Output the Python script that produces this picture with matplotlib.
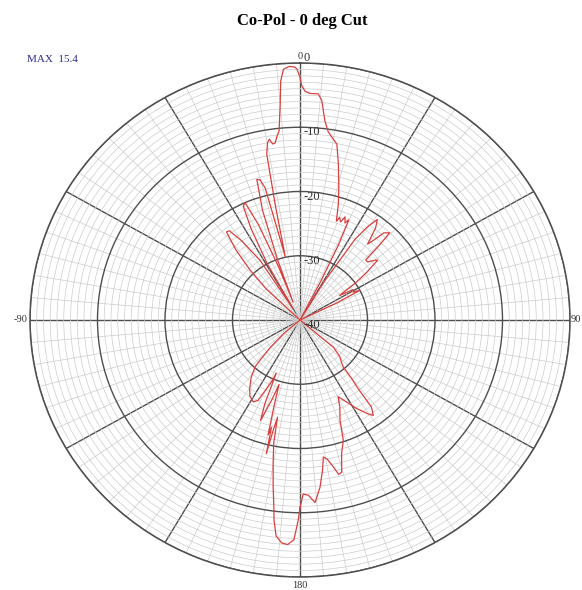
import numpy as np
import matplotlib
matplotlib.use('Agg')
import matplotlib.pyplot as plt

plt.rcParams['font.family'] = ['Liberation Serif', 'DejaVu Serif']

# measured co-pol cut, angle in deg (0 = boresight, clockwise) and relative gain in dB
angles_deg = [
    -180, -179.5, -178.5, -177, -175.5, -174, -173, -172.3, -171.3, -169.7,
    -168.5, -167.6, -167, -166.5, -165.8, -165.2, -164, -162.8, -161.5, -159.5,
    -158.2, -157, -156.3, -155, -153.5, -151.5, -148, -145, -141, -137.5,
    -136.5, -134, -131, -128, -50, -46, -43.5, -41, -38.5, -37,
    -35, -32.5, -30.5, -29, -27, -25.4, -24, -22.5, -21, -20.3,
    -19.5, -18, -16.3, -15.2, -14.1, -13.3, -12.5, -11.6, -10.8, -9.9,
    -9.2, -8.4, -7.6, -6.8, -6, -5, -4.4, -3.6, -2.3, -1.2,
    -0.7, 0, 0.4, 1.2, 2.4, 4.4, 5.4, 6.8, 8.1, 9.5,
    11.3, 13.2, 15.5, 17.5, 19.3, 20.2, 21.5, 22.6, 23.8, 24.9,
    26, 27, 29, 31, 33, 34.5, 36.2, 38, 40.3, 41.2,
    42.5, 44.4, 45.3, 46.2, 48, 50, 51, 53, 55, 57,
    59, 61, 62.5, 64, 67, 128, 130.6, 134, 137, 138.7,
    140, 141, 141.7, 142, 143.8, 145.3, 148.7, 151.6, 154.7, 156.5,
    159.2, 161.1, 163.5, 165.4, 166.6, 167.8, 169.5, 170.8, 171.8, 173.5,
    175.5, 177.4, 179, 180,
]
gain_db = [
    -10.8, -8.8, -5.8, -5.0, -5.2, -6.2, -8.5, -11.0, -13.7, -17.8,
    -20.5, -24.5, -22.5, -18.6, -22.8, -21.5, -26.0, -29.5, -27.0, -23.3,
    -26.0, -31.0, -29.5, -28.0, -26.0, -25.5, -26.0, -27.0, -28.5, -30.2,
    -31.5, -34.0, -37.0, -40.0, -40.0, -33.0, -29.2, -25.5, -22.5, -22.6,
    -25.0, -29.0, -38.0, -30.0, -24.0, -20.4, -20.0, -24.0, -31.0, -37.0,
    -30.0, -22.0, -17.2, -17.4, -18.8, -26.0, -30.0, -22.0, -13.7, -12.0,
    -11.5, -12.3, -12.2, -11.2, -10.4, -6.3, -2.7, -0.9, -0.5, -0.6,
    -0.9, -2.2, -3.5, -4.4, -4.7, -4.7, -5.7, -8.8, -10.4, -11.2,
    -12.1, -15.1, -18.5, -21.1, -23.7, -23.0, -23.6, -22.6, -23.5, -22.8,
    -27.0, -33.0, -40.0, -33.0, -25.0, -22.5, -20.6, -21.8, -24.5, -23.6,
    -21.6, -21.0, -23.5, -26.5, -26.5, -25.5, -25.2, -27.5, -30.0, -33.0,
    -30.8, -31.0, -30.0, -34.0, -40.0, -40.0, -33.5, -31.8, -31.0, -30.3,
    -28.0, -26.6, -24.1, -22.8, -21.6, -22.2, -23.9, -25.5, -26.8, -25.2,
    -23.3, -20.2, -18.3, -15.5, -15.3, -16.6, -18.0, -18.4, -16.5, -13.8,
    -11.5, -12.7, -12.9, -10.8,
]

ring_levels = [-40, -30, -20, -10, 0]
ring_labels = ['-40', '-30', '-20', '-10', '0']
cut_angles = [0, 90, 180, -90]
cut_labels = ['0', '90', '180', '-90']

fig = plt.figure(figsize=(5.82, 5.90), dpi=100)
ax = fig.add_axes([30 / 582, 13 / 590, 540 / 582, 514 / 590], projection='polar')
ax.set_aspect('auto')   # the original plot is a bit wider than tall
ax.set_theta_zero_location('N')
ax.set_theta_direction(-1)
ax.set_ylim(-40, 0)

# grid: dark every 30 deg / 10 dB, light every 5 deg / 1 dB
ax.set_xticks(np.deg2rad(np.arange(0, 360, 30)))
ax.set_xticks(np.deg2rad([a for a in range(0, 360, 5) if a % 30]), minor=True)
ax.set_yticks(ring_levels[1:])
ax.set_yticks([v for v in range(-39, 0) if v % 10], minor=True)
ax.set_xticklabels([])
ax.set_yticklabels([])
ax.tick_params(which='both', length=0)
ax.grid(which='minor', color='#cccccc', lw=0.5)
ax.grid(which='major', color='#4e4e4e', lw=1.0)
ax.spines['polar'].set_color('#4e4e4e')
ax.spines['polar'].set_linewidth(1.1)

ax.plot(np.deg2rad(angles_deg), gain_db, color='#d8403f', lw=0.9, zorder=5)

# angle labels round the outside
offsets = {'0': (0, 2, 'center', 'bottom'), '90': (1, 0, 'left', 'center'),
           '180': (0, -4, 'center', 'top'), '-90': (-3, 0, 'right', 'center')}
for a, t in zip(cut_angles, cut_labels):
    dx, dy, ha, va = offsets[t]
    ax.annotate(t, xy=(np.deg2rad(a), 0), xytext=(dx, dy), textcoords='offset pixels',
                ha=ha, va=va, fontsize=7.5, color='#333333', annotation_clip=False)

# dB labels along the 0 deg spoke
for r, t in zip(ring_levels, ring_labels):
    dy = 5 if r == 0 else -5
    ax.annotate(t, xy=(0, r), xytext=(4, dy), textcoords='offset pixels',
                ha='left', va='center', fontsize=9, color='#333333',
                annotation_clip=False, zorder=6)

fig.text(0.52, 1 - 21 / 590, 'Co-Pol - 0 deg Cut', ha='center', va='center',
         fontsize=12, fontweight='bold')
fig.text(27 / 582, 1 - 60 / 590, 'MAX  15.4', color='#2b2b8f', fontsize=8, va='center')

fig.savefig('out.png', dpi=100)
